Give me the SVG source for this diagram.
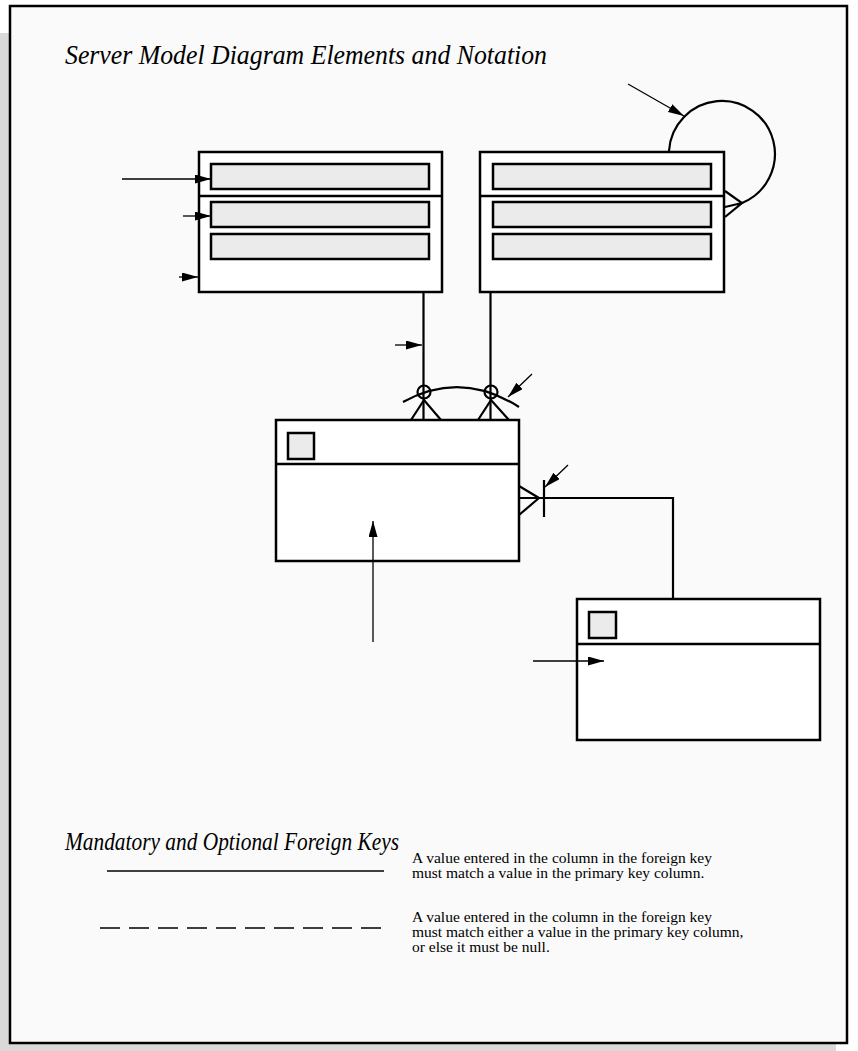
<svg xmlns="http://www.w3.org/2000/svg" width="858" height="1051" viewBox="0 0 858 1051">
<style>
.frame{fill:#fafafa;stroke:#000;stroke-width:2.5}
.tbl{fill:#fff;stroke:#000;stroke-width:2.5}
.row{fill:#ebebeb;stroke:#000;stroke-width:2.5}
.div{stroke:#000;stroke-width:2.5;fill:none}
.rel{stroke:#000;stroke-width:2.2;fill:none}
.arr{stroke:#000;stroke-width:1.3;fill:none;marker-end:url(#ah)}
.h{font-family:"Liberation Serif",serif;font-style:italic;font-size:25px;fill:#000}
.t{font-family:"Liberation Serif",serif;font-size:15.5px;fill:#000}
</style>
<defs>
<marker id="ah" markerUnits="userSpaceOnUse" markerWidth="16" markerHeight="10" refX="16" refY="4.5" orient="auto">
<path d="M0,0 L16,4.5 L0,9 z" fill="#000"/>
</marker>
</defs>
<rect x="0" y="0" width="858" height="1051" fill="#fff"/>
<rect x="0" y="33" width="836" height="1018" fill="#d9d9d9"/>
<rect class="frame" x="10" y="6" width="837" height="1037"/>
<text class="h" x="65" y="64" style="font-size:28px" textLength="482" lengthAdjust="spacingAndGlyphs">Server Model Diagram Elements and Notation</text>

<g id="table1">
<rect class="tbl" x="199" y="152" width="243" height="140"/>
<line class="div" x1="199" y1="196" x2="442" y2="196"/>
<rect class="row" x="211" y="164" width="218" height="25"/>
<rect class="row" x="211" y="202" width="218" height="25"/>
<rect class="row" x="211" y="234" width="218" height="25"/>
</g>
<g id="table2">
<rect class="tbl" x="480" y="152" width="244" height="140"/>
<line class="div" x1="480" y1="196" x2="724" y2="196"/>
<rect class="row" x="493" y="164" width="218" height="25"/>
<rect class="row" x="493" y="202" width="218" height="25"/>
<rect class="row" x="493" y="234" width="218" height="25"/>
</g>
<g id="table3">
<rect class="tbl" x="276" y="420" width="243" height="141"/>
<line class="div" x1="276" y1="464" x2="519" y2="464"/>
<rect class="row" x="288" y="433" width="26" height="26"/>
</g>
<g id="table4">
<rect class="tbl" x="577" y="599" width="243" height="141"/>
<line class="div" x1="577" y1="644" x2="820" y2="644"/>
<rect class="row" x="589" y="612" width="27" height="26"/>
</g>

<g id="connectors">
<path class="rel" d="M669,151 A53,53 0 1 1 742,203" stroke-width="2.5"/>
<path class="rel" d="M725,191 L742,203 L725,217 M725,207 L742,203"/>
<line class="rel" x1="423.5" y1="292" x2="423.5" y2="420"/>
<circle class="rel" cx="424" cy="392" r="6.5"/>
<path class="rel" d="M411,420 L424,400 L441,420"/>
<line class="rel" x1="490.5" y1="292" x2="490.5" y2="420"/>
<circle class="rel" cx="491" cy="392" r="6.5"/>
<path class="rel" d="M478,420 L491,400 L509,420"/>
<path class="rel" d="M403,402 Q461,370 519,407" stroke-width="1.8"/>
<path class="rel" d="M519,486 L539,498 L519,515 M519,498 L673,498 L673,599"/>
<line class="rel" x1="544" y1="480" x2="544" y2="517"/>
<line class="arr" x1="122" y1="179" x2="211" y2="179"/>
<line class="arr" x1="183" y1="216" x2="211" y2="216"/>
<line class="arr" x1="179" y1="277" x2="198" y2="277"/>
<line class="arr" x1="628" y1="84" x2="684" y2="116"/>
<line class="arr" x1="395" y1="345" x2="422" y2="345"/>
<line class="arr" x1="532" y1="374" x2="508" y2="397"/>
<line class="arr" x1="568" y1="465" x2="545" y2="487"/>
<line class="arr" x1="373" y1="642" x2="373" y2="521"/>
<line class="arr" x1="533" y1="661" x2="604" y2="661"/>
</g>

<g id="legend">
<text class="h" x="65" y="850" textLength="334" lengthAdjust="spacingAndGlyphs">Mandatory and Optional Foreign Keys</text>
<line x1="107" y1="871" x2="384" y2="871" stroke="#000" stroke-width="1.3"/>
<line x1="100" y1="928" x2="384" y2="928" stroke="#000" stroke-width="1.3" stroke-dasharray="20,9"/>
<text class="t" x="412" y="863">A value entered in the column in the foreign key</text>
<text class="t" x="412" y="878">must match a value in the primary key column.</text>
<text class="t" x="412" y="922">A value entered in the column in the foreign key</text>
<text class="t" x="412" y="937">must match either a value in the primary key column,</text>
<text class="t" x="412" y="952">or else it must be null.</text>
</g>
</svg>
